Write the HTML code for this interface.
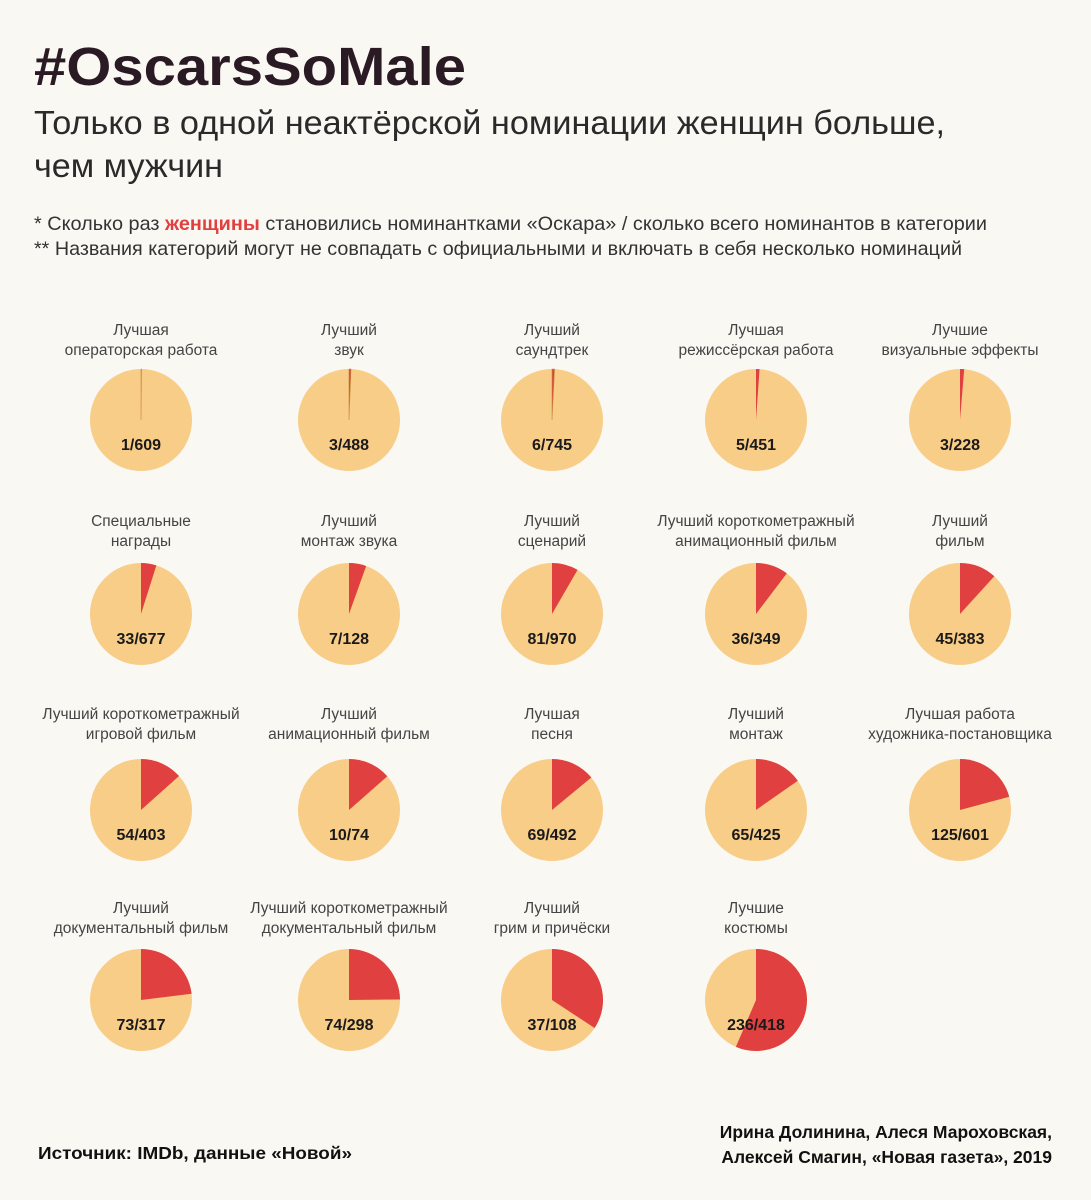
<!DOCTYPE html>
<html><head><meta charset="utf-8">
<style>
body{margin:0;background:#faf8f3;width:1091px;height:1200px;overflow:hidden;font-family:"Liberation Sans",sans-serif;}
svg{position:absolute;left:0;top:0}
</style></head>
<body>
<svg id="c" width="1091" height="1200">
<text x="34" y="85" font-size="54" font-weight="bold" fill="#2a1a24" textLength="432" lengthAdjust="spacingAndGlyphs">#OscarsSoMale</text>
<text x="34" y="134" font-size="33" fill="#2a2a2a" textLength="911" lengthAdjust="spacingAndGlyphs">Только в одной неактёрской номинации женщин больше,</text>
<text x="34" y="177" font-size="33" fill="#2a2a2a" textLength="189" lengthAdjust="spacingAndGlyphs">чем мужчин</text>
<text x="34" y="230" font-size="19.5" fill="#333" textLength="953" lengthAdjust="spacingAndGlyphs">* Сколько раз <tspan fill="#e0403f" font-weight="bold">женщины</tspan> становились номинантками «Оскара» / сколько всего номинантов в категории</text>
<text x="34" y="255" font-size="19.5" fill="#333" textLength="928" lengthAdjust="spacingAndGlyphs">** Названия категорий могут не совпадать с официальными и включать в себя несколько номинаций</text>
<text x="38" y="1159" font-size="17.5" font-weight="bold" fill="#111" textLength="314" lengthAdjust="spacingAndGlyphs">Источник: IMDb, данные «Новой»</text>
<text x="1052" y="1138" font-size="17.5" font-weight="bold" fill="#111" text-anchor="end">Ирина Долинина, Алеся Мароховская,</text>
<text x="1052" y="1163" font-size="17.5" font-weight="bold" fill="#111" text-anchor="end">Алексей Смагин, «Новая газета», 2019</text>
</svg>
<script>
const labels1=["Лучшая","Лучший","Лучший","Лучшая","Лучшие","Специальные","Лучший","Лучший","Лучший короткометражный","Лучший","Лучший короткометражный","Лучший","Лучшая","Лучший","Лучшая работа","Лучший","Лучший короткометражный","Лучший","Лучшие"];
const labels2=["операторская работа","звук","саундтрек","режиссёрская работа","визуальные эффекты","награды","монтаж звука","сценарий","анимационный фильм","фильм","игровой фильм","анимационный фильм","песня","монтаж","художника-постановщика","документальный фильм","документальный фильм","грим и причёски","костюмы"];
const women=[1,3,6,5,3,33,7,81,36,45,54,10,69,65,125,73,74,37,236];
const totals=[609,488,745,451,228,677,128,970,349,383,403,74,492,425,601,317,298,108,418];
const colX=[141,349,552,756,960];
const rowY=[420,614,810,1000];
const R=51;
const svg=document.getElementById('c');
const NS='http://www.w3.org/2000/svg';
function mk(t,a){const e=document.createElementNS(NS,t);for(const k in a)e.setAttribute(k,a[k]);svg.appendChild(e);return e;}
women.forEach((w,i)=>{
  const row=Math.floor(i/5);
  const cx=colX[i%5],cy=rowY[row];
  const lo=[85,88,91,87][row];
  const c=mk('circle',{cx:cx,cy:cy,r:R,fill:'#f8cd87'});
  
  
  const f=w/totals[i],a=f*2*Math.PI;
  const x=cx+R*Math.sin(a),y=cy-R*Math.cos(a);
  const p=mk('path',{d:`M${cx},${cy}L${cx},${cy-R}A${R},${R} 0 ${f>0.5?1:0} 1 ${x},${y}Z`,fill:'#e0403f',stroke:f<0.01?'#c9893e':'none','stroke-width':0.6});
  
  
  const t1=mk('text',{x:cx,y:cy-lo,'font-size':15.5,fill:'#444','text-anchor':'middle'});t1.textContent=labels1[i];
  
  
  const t2=mk('text',{x:cx,y:cy-lo+20,'font-size':15.5,fill:'#444','text-anchor':'middle'});t2.textContent=labels2[i];
  
  
  const t3=mk('text',{x:cx,y:cy+30,'font-size':16,'font-weight':'bold',fill:'#1a1a1a','text-anchor':'middle'});t3.textContent=w+'/'+totals[i];
  
  
});
</script>
</body></html>
